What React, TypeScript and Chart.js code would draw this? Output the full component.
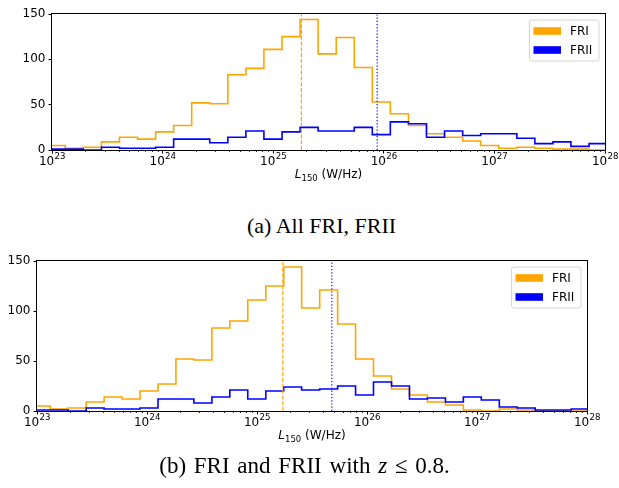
import React, { useEffect, useRef } from "react";
import { Chart, registerables } from "chart.js";

Chart.register(...registerables);

// ---- data ----
// log10 of the histogram bin edges (W/Hz)
const BIN_EDGES_LOG = [
  22.957, 23.12, 23.283, 23.447, 23.61, 23.773, 23.937, 24.1, 24.263, 24.426,
  24.59, 24.753, 24.916, 25.08, 25.243, 25.406, 25.57, 25.733, 25.896, 26.059,
  26.223, 26.386, 26.549, 26.713, 26.876, 27.039, 27.203, 27.366, 27.529, 27.692,
  27.856, 28.019,
];

// (a) All FRI, FRII
const FRI_ALL = [5, 2, 3, 9, 14, 12, 20, 27, 52, 51, 83, 90, 111, 125, 144, 106, 124, 91, 53, 40, 27, 18, 14, 10, 5, 2, 3, 2, 1, 1, 0];
const FRII_ALL = [1, 1, 0, 3, 2, 2, 3, 12, 12, 8, 14, 21, 12, 20, 25, 21, 21, 25, 17, 31, 29, 14, 21, 16, 18, 18, 13, 7, 9, 4, 7];
const FRI_ALL_MEDIAN = 25.255;
const FRII_ALL_MEDIAN = 25.94;

// (b) FRI and FRII with z <= 0.8
const FRI_Z08 = [5, 2, 3, 9, 14, 12, 20, 27, 52, 51, 83, 90, 111, 125, 144, 103, 121, 87, 52, 35, 22, 16, 9, 6, 1, 0, 2, 1, 0, 0, 0];
const FRII_Z08 = [1, 1, 0, 3, 2, 2, 3, 12, 12, 8, 14, 21, 12, 20, 24, 21, 22, 25, 16, 29, 25, 12, 13, 9, 14, 11, 4, 3, 1, 1, 2];
const FRI_Z08_MEDIAN = 25.235;
const FRII_Z08_MEDIAN = 25.68;

const X_TICKS = [23, 24, 25, 26, 27, 28];
const Y_TICKS = [0, 50, 100, 150];
const SERIES_LABELS = ["FRI", "FRII"];
const X_TICK_BASE = "10";
const X_TITLE = { main: "L", sub: "150", rest: " (W/Hz)" };
const CAPTION_A = "(a) All FRI, FRII";
const CAPTION_B_PRE = "(b) FRI and FRII with ";
const CAPTION_B_VAR = "z";
const CAPTION_B_POST = " \u2264 0.8.";

const ORANGE = "#ffa500";
const BLUE = "#0000ff";
const FONT = '"DejaVu Sans", sans-serif';

function stepPoints(counts: number[]) {
  const pts: { x: number; y: number }[] = [{ x: BIN_EDGES_LOG[0], y: 0 }];
  counts.forEach((c, i) => pts.push({ x: BIN_EDGES_LOG[i], y: c }));
  pts.push({ x: BIN_EDGES_LOG[counts.length], y: 0 });
  return pts;
}

type PanelProps = {
  fri: number[];
  frii: number[];
  medFri: number;
  medFrii: number;
  top: number;
  height: number;
  area: { left: number; top: number; right: number; bottom: number };
};

function Panel({ fri, frii, medFri, medFrii, top, height, area }: PanelProps) {
  const ref = useRef<HTMLCanvasElement | null>(null);

  useEffect(() => {
    const canvas = ref.current;
    if (!canvas) return;

    const decor = {
      id: "decor",
      afterDraw(chart: any) {
        const ctx = chart.ctx as CanvasRenderingContext2D;
        const ca = chart.chartArea;
        const xs = chart.scales.x;
        ctx.save();
        // frame (spines)
        ctx.strokeStyle = "#000";
        ctx.lineWidth = 1;
        ctx.strokeRect(ca.left - 0.5, ca.top - 0.5, ca.right - ca.left + 1, ca.bottom - ca.top + 1);
        // minor ticks
        ctx.beginPath();
        for (let d = X_TICKS[0]; d < X_TICKS[X_TICKS.length - 1]; d++) {
          for (let k = 2; k <= 9; k++) {
            const px = Math.round(xs.getPixelForValue(d + Math.log10(k))) + 0.5;
            ctx.moveTo(px, ca.bottom);
            ctx.lineTo(px, ca.bottom + 2);
          }
        }
        ctx.lineWidth = 0.8;
        ctx.stroke();

        // x tick labels 10^n with a raised exponent
        ctx.fillStyle = "#000";
        ctx.textBaseline = "alphabetic";
        X_TICKS.forEach((v) => {
          const px = xs.getPixelForValue(v);
          ctx.font = `12px ${FONT}`;
          const wb = ctx.measureText(X_TICK_BASE).width;
          ctx.font = `8.6px ${FONT}`;
          const exp = String(v);
          const we = ctx.measureText(exp).width;
          const sx = px - (wb + we) / 2;
          ctx.font = `12px ${FONT}`;
          ctx.fillText(X_TICK_BASE, sx, ca.bottom + 15);
          ctx.font = `8.6px ${FONT}`;
          ctx.fillText(exp, sx + wb + 0.3, ca.bottom + 9.2);
        });

        // x-axis title with italic L and subscript
        const parts = [
          { t: X_TITLE.main, f: `italic 12px ${FONT}`, dy: 0 },
          { t: X_TITLE.sub, f: `8.5px ${FONT}`, dy: 2.6 },
          { t: X_TITLE.rest, f: `12px ${FONT}`, dy: 0 },
        ];
        let total = 0;
        const widths = parts.map((p) => {
          ctx.font = p.f;
          const w = ctx.measureText(p.t).width;
          total += w;
          return w;
        });
        let x = (ca.left + ca.right) / 2 - total / 2;
        const baseY = ca.bottom + 28;
        parts.forEach((p, i) => {
          ctx.font = p.f;
          ctx.fillText(p.t, x, baseY + p.dy);
          x += widths[i];
        });

        // legend (upper right, inside axes)
        const bw = 69.5;
        const bh = 41;
        const bx = ca.right - 6 - bw;
        const by = ca.top + 6;
        ctx.beginPath();
        const r = 2.5;
        ctx.moveTo(bx + r, by);
        ctx.lineTo(bx + bw - r, by);
        ctx.quadraticCurveTo(bx + bw, by, bx + bw, by + r);
        ctx.lineTo(bx + bw, by + bh - r);
        ctx.quadraticCurveTo(bx + bw, by + bh, bx + bw - r, by + bh);
        ctx.lineTo(bx + r, by + bh);
        ctx.quadraticCurveTo(bx, by + bh, bx, by + bh - r);
        ctx.lineTo(bx, by + r);
        ctx.quadraticCurveTo(bx, by, bx + r, by);
        ctx.closePath();
        ctx.fillStyle = "rgba(255,255,255,0.8)";
        ctx.fill();
        ctx.strokeStyle = "#d4d4d4";
        ctx.lineWidth = 1;
        ctx.stroke();
        const colors = [ORANGE, BLUE];
        SERIES_LABELS.forEach((lab, i) => {
          const cy = by + 11 + i * 19;
          ctx.fillStyle = colors[i];
          ctx.fillRect(bx + 4, cy - 3.8, 27.5, 7.6);
          ctx.fillStyle = "#000";
          ctx.font = `12px ${FONT}`;
          ctx.textBaseline = "middle";
          ctx.fillText(lab, bx + 40.5, cy + 0.5);
        });
        ctx.restore();
      },
    };

    const chart = new Chart(canvas, {
      type: "line",
      data: {
        datasets: [
          {
            label: SERIES_LABELS[0],
            data: stepPoints(fri),
            borderColor: ORANGE,
            borderWidth: 1.6,
            stepped: true,
            pointRadius: 0,
            fill: false,
            order: 4,
          },
          {
            label: SERIES_LABELS[1],
            data: stepPoints(frii),
            borderColor: BLUE,
            borderWidth: 1.6,
            stepped: true,
            pointRadius: 0,
            fill: false,
            order: 3,
          },
          {
            label: "FRI median",
            data: [
              { x: medFri, y: Y_TICKS[0] },
              { x: medFri, y: Y_TICKS[Y_TICKS.length - 1] },
            ],
            borderColor: ORANGE,
            borderWidth: 1.2,
            borderDash: [4, 1.8],
            pointRadius: 0,
            fill: false,
            order: 2,
          },
          {
            label: "FRII median",
            data: [
              { x: medFrii, y: Y_TICKS[0] },
              { x: medFrii, y: Y_TICKS[Y_TICKS.length - 1] },
            ],
            borderColor: BLUE,
            borderWidth: 1.2,
            borderDash: [1.2, 2],
            pointRadius: 0,
            fill: false,
            order: 1,
          },
        ],
      } as any,
      options: {
        animation: false,
        responsive: false,
        devicePixelRatio: 1,
        layout: {
          padding: { left: 0, top: area.top, right: 619 - area.right, bottom: 0 },
        },
        plugins: {
          legend: { display: false },
          tooltip: { enabled: false },
          title: { display: false },
        },
        scales: {
          x: {
            type: "linear",
            min: X_TICKS[0],
            max: X_TICKS[X_TICKS.length - 1],
            afterBuildTicks: (s: any) => {
              s.ticks = X_TICKS.map((v) => ({ value: v }));
            },
            afterFit: (s: any) => {
              s.height = height - area.bottom;
            },
            ticks: {
              display: false,
              autoSkip: false,
            },
            grid: {
              drawOnChartArea: false,
              drawTicks: true,
              tickLength: 3.5,
              tickColor: "#000",
              tickWidth: 1,
            },
            border: { display: false },
          },
          y: {
            type: "linear",
            min: Y_TICKS[0],
            max: Y_TICKS[Y_TICKS.length - 1],
            afterBuildTicks: (s: any) => {
              s.ticks = Y_TICKS.map((v) => ({ value: v }));
            },
            afterFit: (s: any) => {
              s.width = area.left;
            },
            ticks: {
              color: "#000",
              font: { family: FONT, size: 12 },
              padding: 3,
              autoSkip: false,
            },
            grid: {
              drawOnChartArea: false,
              drawTicks: true,
              tickLength: 3.5,
              tickColor: "#000",
              tickWidth: 1,
            },
            border: { display: false },
          },
        },
      } as any,
      plugins: [decor],
    });

    return () => chart.destroy();
  }, [fri, frii, medFri, medFrii, height, area]);

  return (
    <canvas
      ref={ref}
      width={619}
      height={height}
      style={{ position: "absolute", left: 0, top, width: 619, height }}
    />
  );
}

const AREA_A = { left: 52, top: 14, right: 605, bottom: 150 };
const AREA_B = { left: 37, top: 21, right: 587, bottom: 171 };

export default function App() {
  return (
    <div
      style={{
        position: "absolute",
        left: 0,
        top: 0,
        width: 619,
        height: 488,
        background: "#fff",
        overflow: "hidden",
      }}
    >
      <Panel
        fri={FRI_ALL}
        frii={FRII_ALL}
        medFri={FRI_ALL_MEDIAN}
        medFrii={FRII_ALL_MEDIAN}
        top={0}
        height={200}
        area={AREA_A}
      />
      <div
        style={{
          position: "absolute",
          top: 213,
          left: 12,
          width: 619,
          textAlign: "center",
          fontFamily: '"Liberation Serif", "Times New Roman", serif',
          fontSize: 22,
          lineHeight: "26px",
          color: "#000",
        }}
      >
        {CAPTION_A}
      </div>
      <Panel
        fri={FRI_Z08}
        frii={FRII_Z08}
        medFri={FRI_Z08_MEDIAN}
        medFrii={FRII_Z08_MEDIAN}
        top={240}
        height={215}
        area={AREA_B}
      />
      <div
        style={{
          position: "absolute",
          top: 453,
          left: -5,
          width: 619,
          textAlign: "center",
          fontFamily: '"Liberation Serif", "Times New Roman", serif',
          fontSize: 23,
          wordSpacing: 2,
          lineHeight: "26px",
          color: "#000",
          whiteSpace: "nowrap",
        }}
      >
        {CAPTION_B_PRE}
        <i>{CAPTION_B_VAR}</i>
        {CAPTION_B_POST}
      </div>
    </div>
  );
}
